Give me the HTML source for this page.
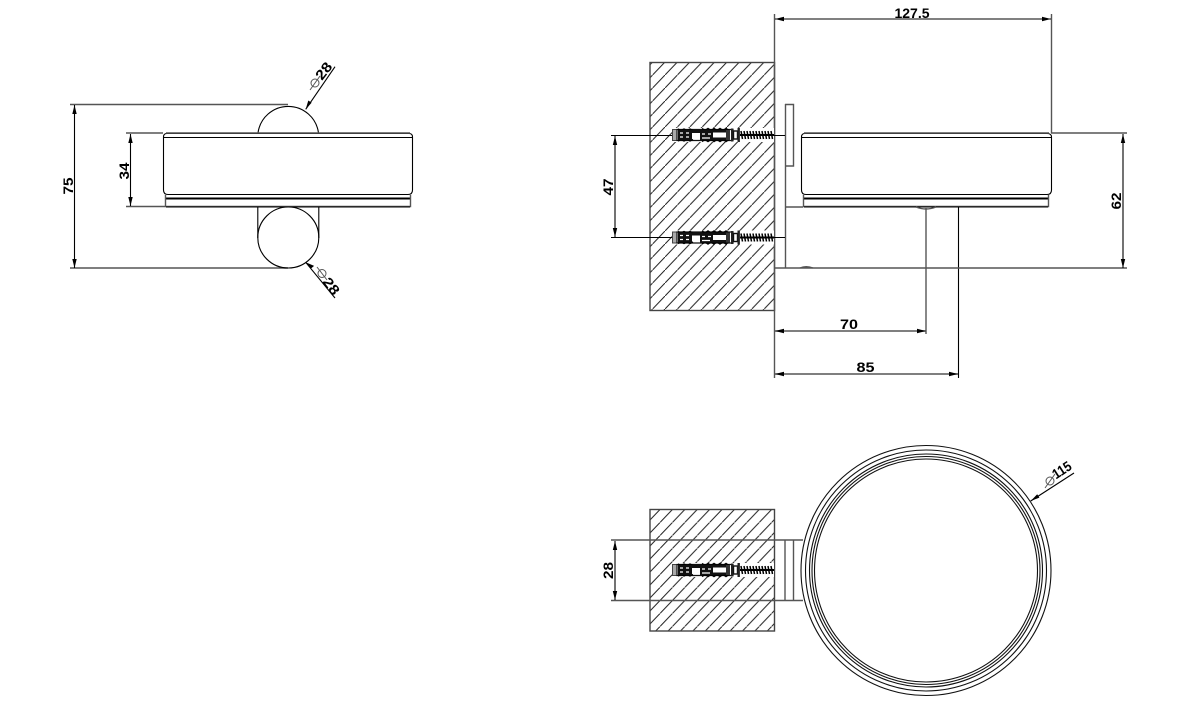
<!DOCTYPE html>
<html>
<head>
<meta charset="utf-8">
<style>
html,body{margin:0;padding:0;background:#fff;width:1200px;height:720px;overflow:hidden}
svg{display:block}
text{font-family:"Liberation Sans",sans-serif;font-weight:bold;fill:#000}
.g{stroke:#555;stroke-width:1.4;fill:none}
.k{stroke:#000;stroke-width:1.1;fill:none}
.t{stroke:#000;stroke-width:2;fill:none}
.a{fill:#000;stroke:none}
</style>
</head>
<body>
<svg width="1200" height="720" viewBox="0 0 1200 720" xmlns="http://www.w3.org/2000/svg">
<defs>
<pattern id="h" patternUnits="userSpaceOnUse" x="652.6" y="62" width="12.4" height="13">
<line x1="-1.24" y1="14.3" x2="13.64" y2="-1.3" stroke="#222" stroke-width="1"/>
</pattern>
<pattern id="h2" patternUnits="userSpaceOnUse" x="647.6" y="509.5" width="12.4" height="13">
<line x1="-1.24" y1="14.3" x2="13.64" y2="-1.3" stroke="#222" stroke-width="1"/>
</pattern>
<g id="screw">
<rect x="0" y="-7" width="102" height="14" fill="#fff" stroke="none"/>
<rect x="0.500" y="-5.500" width="5" height="11" fill="#aaa" stroke="#444" stroke-width="1"/>
<path d="M5,-5.500 H61 V5.500 H5 Z" fill="#fff" stroke="#111" stroke-width="1.200"/>
<path d="M6,-6 l3,1.500 l3,-1.500 l3,1.500 l3,-1.500 l3,1.500 M30,-6.500 l3,2 l3,-2 l3,2 l3,-2 l3,2 l3,-2 l3,2 l3,-2 l3,2 M6,6 l3,-1.500 l3,1.500 l3,-1.500 l3,1.500 l3,-1.500 M30,6.500 l3,-2 l3,2 l3,-2 l3,2 l3,-2 l3,2 l3,-2 l3,2 l3,-2" stroke="#000" stroke-width="1.400" fill="none"/>
<rect x="6" y="-5" width="14" height="10" fill="#111"/>
<path d="M8,-2 h3 M14,-2 h3 M8,2 h3 M14,2 h3" stroke="#fff" stroke-width="1.300"/>
<rect x="28" y="-5" width="13" height="10" fill="#111"/>
<path d="M30,-1 h3 M36,-1 h3 M30,3 h8" stroke="#fff" stroke-width="1.300"/>
<rect x="20" y="-5" width="8" height="3" fill="#111"/>
<rect x="41" y="-5" width="13" height="2.500" fill="#111"/>
<rect x="41" y="2.500" width="13" height="2.500" fill="#111"/>
<rect x="54" y="-5" width="4" height="10" fill="#333"/>
<rect x="59" y="-6.500" width="2.400" height="13" fill="#222"/>
<rect x="61.500" y="-4" width="4" height="8" fill="#fff" stroke="#111" stroke-width="1.400"/>
<rect x="65.500" y="-7" width="2.400" height="14" fill="#222"/>
<path d="M69,-4 l1.500,8 M72,-4 l1.500,8 M75,-4 l1.500,8 M78,-4 l1.500,8 M81,-4 l1.500,8 M84,-4 l1.500,8 M87,-4 l1.500,8 M90,-4 l1.500,8 M93,-4 l1.500,8 M96,-4 l1.500,8 M99,-4 l1.500,8" stroke="#000" stroke-width="1.500" fill="none"/>
<path d="M68,0 H102" stroke="#000" stroke-width="2"/>
</g>
</defs>

<!-- LEFT VIEW -->
<path class="g" d="M70,104.500 H288 M70,268 H288 M126,133 H163 M126,206.500 H165"/>
<path class="k" d="M74.500,105 V268 M130.500,134 V206"/>
<path class="a" d="M74.500,105 l-2.200,9 h4.400z M74.500,268 l-2.200,-9 h4.400z M130.500,134 l-2.200,9 h4.400z M130.500,206 l-2.200,-9 h4.400z"/>
<path class="k" d="M258,133 A30.500,30.500 0 0 1 318.500,133"/>
<circle class="k" cx="288.300" cy="237.500" r="30.500"/>
<path class="k" d="M257.800,207 V238 M318.800,207 V238"/>
<path class="k" d="M163.500,137 Q163.500,133.500 167,133.500 H409 Q412.500,133.500 412.500,137 V190 Q412.500,194.500 408,194.500 H168 Q163.500,194.500 163.500,190 Z"/>
<path class="g" d="M166,133 H410"/>
<path class="k" d="M164,137.500 H412"/>
<path class="t" d="M165,198.500 H411"/>
<path class="g" d="M165.500,195 V206.500 H410.500 V195"/>
<path class="k" d="M166,207 H410"/>

<path class="k" d="M305.700,109.300 L335,66.700"/>
<path class="a" d="M305.700,109.300 l2.600,-8.800 l3.300,2.300z"/>
<path class="k" d="M305.700,262.300 L335,298"/>
<path class="a" d="M305.700,262.300 l8.400,3.600 l-3.100,2.600z"/>

<text transform="translate(73,186) rotate(-90)" text-anchor="middle" font-size="14" textLength="17" lengthAdjust="spacingAndGlyphs">75</text>
<text transform="translate(129,171) rotate(-90)" text-anchor="middle" font-size="14" textLength="17" lengthAdjust="spacingAndGlyphs">34</text>
<text transform="translate(322,81) rotate(-52)" font-size="14" textLength="18" lengthAdjust="spacingAndGlyphs">28</text>
<circle class="g" style="stroke-width:1" cx="315" cy="83" r="4"/><path class="g" style="stroke-width:1" d="M310,90 L320,76"/>
<text transform="translate(322,282) rotate(52)" font-size="14" textLength="18" lengthAdjust="spacingAndGlyphs">28</text>
<circle class="g" style="stroke-width:1" cx="322" cy="273.500" r="4"/><path class="g" style="stroke-width:1" d="M317,267 L327,280"/>

<!-- RIGHT TOP VIEW -->
<rect x="650" y="62.500" width="124.500" height="248" fill="url(#h)" stroke="#444" stroke-width="1.400"/>
<path class="g" d="M774.500,14 V378"/>
<path class="g" d="M1051.500,14 V133"/>
<path class="k" d="M775,19 H1051"/>
<path class="a" d="M775,19 l9,-2.200 v4.400z M1051,19 l-9,-2.200 v4.400z"/>
<text x="912" y="18" text-anchor="middle" font-size="14" textLength="35" lengthAdjust="spacingAndGlyphs">127.5</text>

<path class="g" d="M785,104.500 H793.500 V166 H785 M785.500,104 V268"/>
<path class="k" d="M801.500,137 Q801.500,133.500 805,133.500 H1047 Q1051.500,133.500 1051.500,137 V190 Q1051.500,194.500 1047,194.500 H806 Q801.500,194.500 801.500,190 Z"/>
<path class="g" d="M804,133 H1049"/>
<path class="k" d="M802,137.500 H1051"/>
<path class="t" d="M803,198.500 H1049"/>
<path class="g" d="M803.500,195 V206.500 H1048.500 V195"/>
<path class="k" d="M804,207 H1048"/>
<path class="g" d="M785,207 H803"/>
<path class="g" d="M916,207 Q926,211 936,207"/>
<path class="g" d="M926,208 V334"/>
<path class="k" d="M958.500,207 V378"/>
<path class="g" d="M774,268 H1127"/>
<path class="g" d="M800,268 Q806,265.500 813,268"/>
<path class="g" d="M1051,133 H1127"/>
<path class="k" d="M1123,134 V268"/>
<path class="a" d="M1123,134 l-2.200,9 h4.400z M1123,268 l-2.200,-9 h4.400z"/>
<text transform="translate(1121,201) rotate(-90)" text-anchor="middle" font-size="14" textLength="17" lengthAdjust="spacingAndGlyphs">62</text>

<path class="g" d="M775,331 H926"/>
<path class="a" d="M775,331 l9,-2.200 v4.400z M926,331 l-9,-2.200 v4.400z"/>
<text x="849" y="329" text-anchor="middle" font-size="14" textLength="18" lengthAdjust="spacingAndGlyphs">70</text>
<path class="g" d="M775,374 H958"/>
<path class="a" d="M775,374 l9,-2.200 v4.400z M958,374 l-9,-2.200 v4.400z"/>
<text x="865.500" y="372" text-anchor="middle" font-size="14" textLength="18" lengthAdjust="spacingAndGlyphs">85</text>

<path class="k" d="M611,135.500 H672 M611,237.500 H672 M773,135.500 H785 M773,237.500 H785"/>
<path class="k" d="M615,136 V237"/>
<path class="a" d="M615,136 l-2.200,9 h4.400z M615,237 l-2.200,-9 h4.400z"/>
<text transform="translate(613,187) rotate(-90)" text-anchor="middle" font-size="14" textLength="17" lengthAdjust="spacingAndGlyphs">47</text>
<use href="#screw" x="672" y="135"/>
<use href="#screw" x="672" y="237.500"/>

<!-- BOTTOM VIEW -->
<rect x="650" y="509.500" width="124.500" height="121.500" fill="url(#h2)" stroke="#444" stroke-width="1.400"/>
<path class="g" d="M611,540 H803 M611,600.500 H803 M785,540 V600.500 M793.500,540 V600.500"/>
<path class="k" d="M615,541 V600"/>
<path class="a" d="M615,541 l-2.200,9 h4.400z M615,600 l-2.200,-9 h4.400z"/>
<text transform="translate(613,570.500) rotate(-90)" text-anchor="middle" font-size="14" textLength="17" lengthAdjust="spacingAndGlyphs">28</text>
<use href="#screw" x="672" y="570"/>
<g fill="#fff" stroke="#111" stroke-width="1.100">
<circle cx="926" cy="570.500" r="125"/>
<circle cx="926" cy="570.500" r="120.500"/>
<circle cx="926" cy="570.500" r="116.500"/>
<circle cx="926" cy="570.500" r="114"/>
<circle cx="926" cy="570.500" r="111.500"/>
</g>
<path class="k" d="M1030.700,501 L1074,473"/>
<path class="a" d="M1030.700,501 l6.500,-6.800 l2.200,3.400z"/>
<text transform="translate(1056,479.500) rotate(-33)" font-size="14" textLength="20" lengthAdjust="spacingAndGlyphs">115</text>
<circle class="g" style="stroke-width:1" cx="1050" cy="481" r="4"/><path class="g" style="stroke-width:1" d="M1045,488 L1055,474"/>
</svg>
</body>
</html>
